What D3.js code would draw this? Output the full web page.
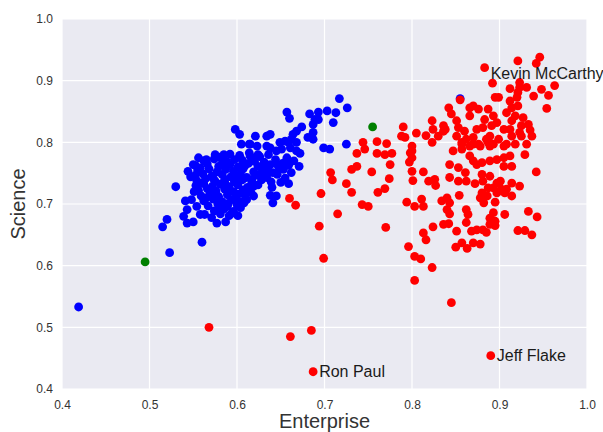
<!DOCTYPE html>
<html>
<head>
<meta charset="utf-8">
<script src="https://cdn.jsdelivr.net/npm/d3@7"></script>
<style>
  body { margin: 0; background: #fff; }
  text { font-family: "Liberation Sans", Arial, sans-serif; }
</style>
</head>
<body>
<div class="chart"></div>
<script>
// data: [enterprise, science] per member
let democrats = [
  [0.419,0.533],[0.523,0.621],[0.560,0.638],[0.515,0.663],[0.520,0.675],[0.530,0.728],[0.544,0.753],
  [0.539,0.680],[0.543,0.669],[0.550,0.671],[0.558,0.683],[0.563,0.683],[0.571,0.678],[0.577,0.669],[0.587,0.671],[0.601,0.681],
  [0.541,0.705],[0.548,0.707],[0.554,0.696],[0.543,0.691],
  [0.550,0.764],[0.556,0.775],[0.565,0.772],[0.575,0.780],[0.585,0.780],[0.597,0.772],
  [0.598,0.821],[0.603,0.813],[0.605,0.797],[0.614,0.797],
  [0.621,0.810],[0.634,0.810],[0.638,0.813],[0.634,0.794],[0.623,0.794],[0.615,0.797],
  [0.655,0.802],[0.659,0.800],[0.662,0.805],[0.649,0.800],[0.651,0.789],[0.661,0.791],[0.668,0.800],[0.668,0.786],
  [0.645,0.786],[0.638,0.791],[0.636,0.780],[0.624,0.780],[0.615,0.778],[0.657,0.775],
  [0.657,0.849],[0.660,0.839],[0.683,0.846],[0.693,0.849],[0.703,0.851],[0.713,0.848],[0.693,0.837],[0.689,0.837],
  [0.687,0.829],[0.710,0.832],[0.717,0.871],[0.726,0.856],
  [0.674,0.825],[0.668,0.818],[0.664,0.813],[0.687,0.816],[0.681,0.808],[0.687,0.805],
  [0.699,0.791],[0.706,0.789],[0.725,0.797],[0.672,0.782],[0.657,0.772],
  [0.659,0.733],[0.638,0.714],[0.645,0.713],[0.641,0.702],[0.619,0.713],[0.611,0.707],[0.608,0.702],
  [0.855,0.871],
  [0.592,0.781],[0.603,0.779],[0.614,0.783],[0.626,0.777],
  [0.562,0.770],[0.574,0.773],[0.588,0.769],[0.606,0.771],[0.618,0.774],[0.631,0.768],[0.644,0.772],[0.652,0.766],
  [0.553,0.762],[0.566,0.765],[0.579,0.761],[0.592,0.764],[0.601,0.760],[0.613,0.766],[0.624,0.761],[0.638,0.764],[0.648,0.759],[0.659,0.763],
  [0.555,0.754],[0.568,0.757],[0.577,0.752],[0.587,0.756],[0.596,0.753],[0.607,0.757],[0.619,0.752],[0.629,0.755],[0.641,0.751],[0.653,0.756],
  [0.552,0.746],[0.561,0.749],[0.571,0.745],[0.583,0.748],[0.593,0.744],[0.604,0.748],[0.611,0.743],[0.623,0.747],[0.634,0.743],[0.646,0.748],
  [0.554,0.738],[0.564,0.741],[0.575,0.737],[0.586,0.740],[0.597,0.736],[0.606,0.739],[0.617,0.735],[0.628,0.739],[0.639,0.736],
  [0.553,0.730],[0.562,0.733],[0.572,0.729],[0.581,0.732],[0.591,0.728],[0.601,0.731],[0.612,0.727],[0.624,0.731],
  [0.556,0.722],[0.566,0.725],[0.576,0.721],[0.586,0.724],[0.596,0.720],[0.607,0.723],[0.616,0.719],
  [0.559,0.713],[0.569,0.716],[0.579,0.712],[0.589,0.715],[0.599,0.711],[0.609,0.714],
  [0.562,0.705],[0.573,0.708],[0.583,0.704],[0.594,0.707],[0.604,0.703],
  [0.567,0.697],[0.578,0.700],[0.589,0.696],[0.600,0.699],
  [0.574,0.689],[0.585,0.692],[0.596,0.688],
  [0.581,0.684],[0.591,0.681],
  [0.655,0.742],[0.662,0.751],[0.650,0.735],[0.640,0.727],[0.665,0.770],[0.671,0.761],
  [0.558,0.758],[0.583,0.766],[0.609,0.762],[0.635,0.758],[0.573,0.741],[0.599,0.745],[0.617,0.740],[0.558,0.734],
  [0.586,0.735],[0.619,0.729],[0.571,0.724],[0.601,0.716],[0.565,0.710],[0.590,0.701],[0.578,0.690],[0.604,0.694],
  [0.632,0.750],[0.645,0.765],[0.620,0.769],[0.580,0.776],[0.547,0.744],[0.551,0.720],[0.594,0.685],[0.614,0.722],
  [0.628,0.745]
];

let republicans = [
  [0.568,0.500],[0.661,0.485],[0.685,0.495],[0.845,0.540],[0.699,0.612],[0.694,0.664],[0.660,0.709],[0.667,0.698],
  [0.696,0.717],[0.707,0.751],[0.709,0.739],[0.715,0.684],
  [0.687,0.428],[0.890,0.454],[0.883,0.921],
  [0.737,0.782],[0.746,0.789],[0.760,0.782],[0.769,0.780],[0.777,0.782],
  [0.798,0.783],[0.800,0.775],[0.797,0.768],
  [0.731,0.756],[0.737,0.761],[0.754,0.752],[0.775,0.764],[0.774,0.741],[0.725,0.733],[0.731,0.719],[0.761,0.719],
  [0.769,0.725],[0.743,0.699],[0.750,0.696],[0.770,0.662],
  [0.800,0.753],[0.801,0.738],
  [0.813,0.752],[0.819,0.737],[0.826,0.740],[0.827,0.730],
  [0.794,0.703],[0.803,0.696],[0.811,0.708],[0.813,0.696],
  [0.813,0.653],[0.816,0.642],[0.796,0.631],[0.803,0.615],[0.810,0.611],[0.823,0.597],[0.803,0.576],
  [0.824,0.663],[0.836,0.667],[0.842,0.668],
  [0.834,0.705],[0.840,0.710],[0.843,0.702],[0.840,0.691],[0.843,0.684],
  [0.847,0.786],[0.857,0.789],
  [0.843,0.764],[0.853,0.759],[0.843,0.743],[0.853,0.737],[0.862,0.737],[0.861,0.751],
  [0.854,0.714],[0.862,0.691],[0.864,0.683],[0.862,0.670],[0.851,0.656],
  [0.857,0.637],[0.850,0.630],[0.863,0.628],[0.870,0.637],[0.878,0.635],
  [0.868,0.656],[0.874,0.658],[0.881,0.658],[0.885,0.654],
  [0.878,0.710],[0.882,0.702],[0.880,0.718],[0.886,0.713],[0.895,0.703],
  [0.889,0.677],[0.895,0.672],[0.893,0.686],[0.889,0.667],[0.895,0.665],[0.906,0.683],
  [0.866,0.778],[0.870,0.770],[0.874,0.764],[0.880,0.767],[0.889,0.770],[0.897,0.772],[0.905,0.775],[0.912,0.778],
  [0.905,0.761],[0.914,0.761],
  [0.889,0.745],[0.897,0.734],[0.901,0.737],[0.893,0.726],[0.902,0.724],[0.897,0.718],[0.906,0.718],[0.914,0.713],
  [0.914,0.734],[0.923,0.729],
  [0.929,0.780],[0.942,0.752],[0.933,0.688],[0.943,0.679],[0.921,0.657],[0.929,0.657],[0.937,0.650],
  [0.872,0.733],[0.880,0.748],[0.881,0.737],[0.887,0.726],[0.908,0.724],
  [0.823,0.800],[0.857,0.800],[0.870,0.797],[0.878,0.794],[0.887,0.800],[0.908,0.797],[0.918,0.797],[0.800,0.794],
  [0.946,0.938],[0.942,0.928],[0.921,0.932],[0.892,0.896],
  [0.923,0.897],[0.923,0.889],[0.931,0.889],[0.921,0.881],[0.912,0.887],
  [0.948,0.886],[0.963,0.892],[0.956,0.876],[0.939,0.875],[0.954,0.855],
  [0.895,0.873],[0.899,0.873],
  [0.912,0.867],[0.920,0.873],[0.921,0.859],[0.914,0.856],[0.908,0.848],
  [0.918,0.843],[0.927,0.840],[0.933,0.829],[0.925,0.827],[0.914,0.835],
  [0.937,0.810],[0.925,0.810],[0.914,0.810],
  [0.855,0.869],
  [0.842,0.856],[0.845,0.846],
  [0.866,0.856],[0.870,0.859],[0.876,0.854],[0.866,0.843],
  [0.887,0.854],[0.883,0.837],[0.893,0.843],[0.897,0.832],[0.891,0.827],[0.881,0.824],[0.874,0.821],[0.905,0.821],
  [0.823,0.835],[0.824,0.821],[0.836,0.818],[0.830,0.810],[0.836,0.827],
  [0.851,0.835],[0.853,0.824],[0.851,0.810],[0.860,0.818],[0.862,0.805],[0.870,0.808],[0.876,0.797],[0.866,0.794],[0.857,0.797],
  [0.790,0.825],[0.792,0.808],[0.805,0.815],[0.816,0.811],[0.788,0.810],
  [0.838,0.821],
  [0.889,0.810],[0.899,0.805],[0.893,0.797],
  [0.744,0.800],[0.760,0.801],[0.771,0.798],
  [0.800,0.786],[0.905,0.794],
  [0.912,0.821],[0.923,0.816],[0.935,0.820],[0.931,0.797],
  [0.885,0.805],[0.889,0.794]
];

let independents = [[0.495,0.606],[0.755,0.825]];

// annotated members: [enterprise, science, name]
let annotations = [
  [0.687,0.428,"Ron Paul"],
  [0.890,0.454,"Jeff Flake"],
  [0.883,0.921,"Kevin McCarthy"]
];

let ticks = [0.4,0.5,0.6,0.7,0.8,0.9,1.0];

let svgWidth = 603;
let svgHeight = 432;
let margin = { top: 19, right: 16, bottom: 43, left: 62 };
let width = svgWidth - margin.left - margin.right;
let height = svgHeight - margin.top - margin.bottom;

let svg = d3.select(".chart")
  .append("svg")
  .attr("width", svgWidth)
  .attr("height", svgHeight);

let chartGroup = svg.append("g")
  .attr("transform", `translate(${margin.left}, ${margin.top})`);

let x = d3.scaleLinear().domain([0.4, 1.0]).range([0, width]);
let y = d3.scaleLinear().domain([0.4, 1.0]).range([height, 0]);

// background + grid
chartGroup.append("rect")
  .attr("width", width)
  .attr("height", height)
  .attr("fill", "#EAEAF2");

chartGroup.selectAll(".vgrid")
  .data(ticks)
  .enter()
  .append("line")
  .attr("x1", d => x(d)).attr("x2", d => x(d))
  .attr("y1", 0).attr("y2", height)
  .attr("stroke", "#fff").attr("stroke-width", 1.2);

chartGroup.selectAll(".hgrid")
  .data(ticks)
  .enter()
  .append("line")
  .attr("y1", d => y(d)).attr("y2", d => y(d))
  .attr("x1", 0).attr("x2", width)
  .attr("stroke", "#fff").attr("stroke-width", 1.2);

// axes (labels only, no lines)
let bottomAxis = d3.axisBottom(x).tickValues(ticks).tickFormat(d3.format(".1f")).tickSize(0).tickPadding(11);
let leftAxis = d3.axisLeft(y).tickValues(ticks).tickFormat(d3.format(".1f")).tickSize(0).tickPadding(9);

let gx = chartGroup.append("g")
  .attr("transform", `translate(0, ${height})`)
  .call(bottomAxis);
let gy = chartGroup.append("g").call(leftAxis);

[gx, gy].forEach(g => {
  g.select(".domain").remove();
  g.selectAll("text")
    .attr("fill", "#333")
    .style("font-size", "12px")
    .style("font-family", "'Liberation Sans', Arial, sans-serif");
});

// points
function drawDots(data, color) {
  chartGroup.append("g")
    .selectAll("circle")
    .data(data)
    .enter()
    .append("circle")
    .attr("cx", d => x(d[0]))
    .attr("cy", d => y(d[1]))
    .attr("r", 4.4)
    .attr("fill", color);
}

drawDots(democrats, "#0000FF");
drawDots(republicans, "#FF0000");
drawDots(independents, "#008000");

// name labels
chartGroup.selectAll(".annot")
  .data(annotations)
  .enter()
  .append("text")
  .attr("x", d => x(d[0]) + 6)
  .attr("y", d => y(d[1]) + (d[2] === "Kevin McCarthy" ? 11 : 5.5))
  .attr("fill", "#1a1a1a")
  .style("font-size", "16px")
  .text(d => d[2]);

// axis titles
svg.append("text")
  .attr("x", margin.left + width / 2)
  .attr("y", 428)
  .attr("text-anchor", "middle")
  .attr("fill", "#333")
  .style("font-size", "20px")
  .text("Enterprise");

svg.append("text")
  .attr("transform", `translate(25, ${margin.top + height / 2}) rotate(-90)`)
  .attr("text-anchor", "middle")
  .attr("fill", "#333")
  .style("font-size", "20px")
  .text("Science");
</script>
</body>
</html>
